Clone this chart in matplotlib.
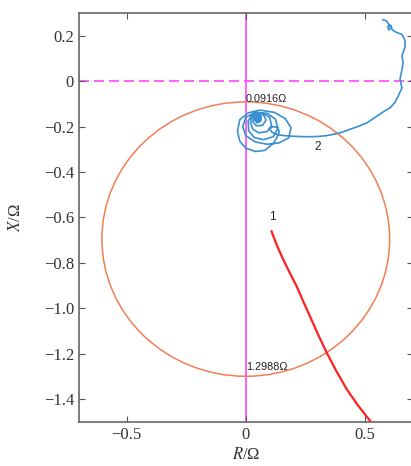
import matplotlib
matplotlib.use("Agg")
import matplotlib.pyplot as plt
from matplotlib.patches import Circle

# circle bounds (top / bottom crossing of the X axis)
circle_top = -0.0916
circle_bottom = -1.2988

# curve 1 (red)
r1 = [0.108, 0.130, 0.157, 0.185, 0.213, 0.240, 0.269, 0.302, 0.339, 0.380,
      0.423, 0.470, 0.521]
x1 = [-0.661, -0.722, -0.785, -0.845, -0.902, -0.967, -1.034, -1.112, -1.194, -1.276,
      -1.355, -1.426, -1.494]

# curve 2 (blue): tail from top right, then spiral into the centre
r2 = [0.575, 0.590, 0.600, 0.610, 0.600, 0.595, 0.608, 0.615, 0.630, 0.655,
      0.668, 0.668, 0.655, 0.660, 0.655, 0.647, 0.655, 0.640, 0.625, 0.605,
      0.576, 0.542, 0.508, 0.470, 0.430, 0.395, 0.340, 0.300, 0.250, 0.200,
      0.160, 0.130, 0.110, 0.100, 0.115, 0.135, 0.140, 0.130, 0.115,
      0.080, 0.040, 0.000, -0.025, -0.035, -0.025, 0.010, 0.060, 0.120, 0.165,
      0.190, 0.180, 0.140, 0.090, 0.040,
      0.000, -0.013, 0.000, 0.040, 0.090, 0.125, 0.134, 0.115, 0.075, 0.035,
      0.012, 0.010, 0.030, 0.070, 0.100, 0.108, 0.090, 0.055, 0.030,
      0.020, 0.025, 0.050, 0.075, 0.085, 0.070, 0.045,
      0.030, 0.033, 0.050, 0.065, 0.063, 0.048,
      0.036, 0.038, 0.050, 0.062, 0.060, 0.046, 0.040, 0.045, 0.056, 0.058,
      0.050, 0.043, 0.047, 0.054, 0.052]
x2 = [0.270, 0.265, 0.250, 0.235, 0.225, 0.240, 0.245, 0.225, 0.215, 0.205,
      0.180, 0.150, 0.110, 0.080, 0.048, 0.010, -0.030, -0.065, -0.095, -0.118,
      -0.136, -0.160, -0.184, -0.200, -0.215, -0.228, -0.240, -0.244, -0.245, -0.243,
      -0.240, -0.235, -0.225, -0.210, -0.200, -0.205, -0.225, -0.250, -0.275,
      -0.305, -0.310, -0.295, -0.265, -0.220, -0.170, -0.140, -0.128, -0.138, -0.165,
      -0.205, -0.250, -0.272, -0.278, -0.268,
      -0.240, -0.200, -0.160, -0.138, -0.142, -0.168, -0.210, -0.245, -0.258, -0.248,
      -0.218, -0.175, -0.145, -0.140, -0.160, -0.195, -0.222, -0.228, -0.212,
      -0.185, -0.155, -0.140, -0.150, -0.172, -0.195, -0.197,
      -0.180, -0.155, -0.145, -0.157, -0.176, -0.184,
      -0.170, -0.152, -0.145, -0.155, -0.172, -0.176, -0.162, -0.150, -0.152, -0.166,
      -0.172, -0.164, -0.155, -0.158, -0.165]

x_ticks = [-0.5, 0, 0.5]
x_tick_labels = ["\u22120.5", "0", "0.5"]
y_ticks = [0.2, 0, -0.2, -0.4, -0.6, -0.8, -1.0, -1.2, -1.4]
y_tick_labels = ["0.2", "0", "\u22120.2", "\u22120.4", "\u22120.6", "\u22120.8",
                 "\u22121.0", "\u22121.2", "\u22121.4"]

plt.rcParams["font.family"] = "Liberation Serif"
plt.rcParams["mathtext.fontset"] = "stix"

fig = plt.figure(figsize=(4.11, 4.66), dpi=100)
ax = fig.add_axes([0.192, 0.0944, 0.812, 0.878])

# reference lines
ax.axhline(0, color="#ff44ff", lw=1.2, ls=(0, (6, 3)), zorder=1)
ax.axvline(0, color="#ff44ff", lw=1.2, zorder=1)

# circle
centre = (circle_top + circle_bottom) / 2
radius = (circle_top - circle_bottom) / 2
ax.add_patch(Circle((0, centre), radius, fill=False, ec="#f07f55", lw=1.1, zorder=2))

ax.plot(r1, x1, color="#ff2020", lw=1.6, zorder=3, solid_joinstyle="round")
ax.plot(r2, x2, color="#3a8fd2", lw=1.2, zorder=3, solid_joinstyle="round")

sans = ["Liberation Sans", "DejaVu Sans"]
ax.text(0, circle_top - 0.008, "0.0916\u03a9", fontsize=7.8, family=sans,
        ha="left", va="bottom", color="#222222")
ax.text(0, circle_bottom + 0.02, "1.2988\u03a9", fontsize=7.8, family=sans,
        ha="left", va="bottom", color="#222222")
ax.text(0.11, -0.6, "1", fontsize=8.5, family=sans, ha="center", va="center", color="#222222")
ax.text(0.30, -0.29, "2", fontsize=8.5, family=sans, ha="center", va="center", color="#222222")

ax.set_xlim(-0.7, 0.7)
ax.set_ylim(-1.5, 0.3)
ax.set_xticks(x_ticks)
ax.set_xticklabels(x_tick_labels)
ax.set_yticks(y_ticks)
ax.set_yticklabels(y_tick_labels)
ax.tick_params(direction="in", top=True, right=True, length=4, width=0.8,
               labelsize=12, colors="#555555", labelcolor="#333333")
for s in ax.spines.values():
    s.set_color("#666666")
    s.set_linewidth(1.2)

ax.set_xlabel("$R$/\u03a9", fontsize=12, color="#333333", labelpad=3)
ax.set_ylabel("$X$/\u03a9", fontsize=12, color="#333333", labelpad=14)

fig.savefig("out.png", dpi=100)
